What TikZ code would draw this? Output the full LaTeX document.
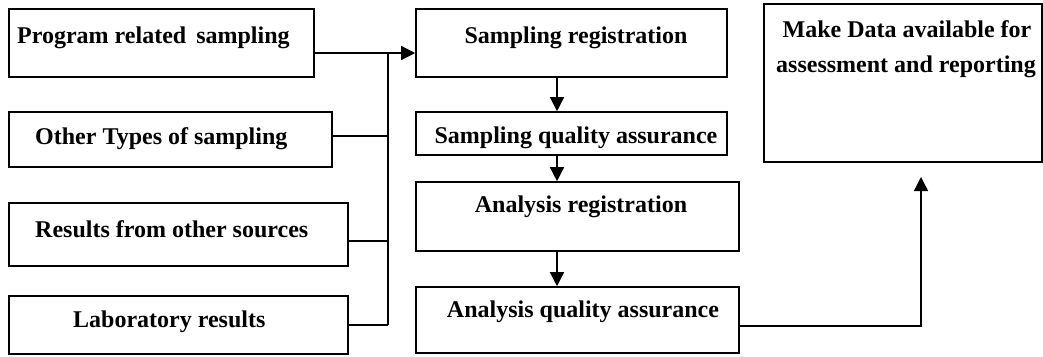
\documentclass[tikz,border=0pt]{standalone}
\usepackage{fontspec}
\setmainfont{Liberation Serif}
\usetikzlibrary{arrows.meta}
\tikzset{
  box/.style={draw=black, line width=1.6pt, rectangle, inner sep=0pt},
  lbl/.style={inner sep=0pt, font=\fontsize{24}{28}\selectfont\bfseries},
  wire/.style={draw=black, line width=1.4pt},
  arr/.style={wire, -{Triangle[length=14pt,width=14pt]}}
}
\begin{document}
\begin{tikzpicture}[x=1pt, y=-1pt]
\useasboundingbox (0,0) rectangle (1043,356);

% input sources
\node[box, minimum width=305pt, minimum height=68pt] (b1) at (161.5,43) {};
\node[box, minimum width=323pt, minimum height=55pt] (b2) at (170.5,139.5) {};
\node[box, minimum width=339pt, minimum height=63pt] (b3) at (178.5,234.5) {};
\node[box, minimum width=339pt, minimum height=58pt] (b4) at (178.5,325) {};

% processing chain
\node[box, minimum width=311pt, minimum height=68pt] (b5) at (571.5,43) {};
\node[box, minimum width=311pt, minimum height=43pt] (b6) at (571.5,133.5) {};
\node[box, minimum width=323pt, minimum height=69pt] (b7) at (577.5,216.5) {};
\node[box, minimum width=323pt, minimum height=66pt] (b8) at (577.5,320) {};

% output
\node[box, minimum width=278pt, minimum height=158pt] (b9) at (903,83) {};

% labels
\node[lbl, anchor=base west] (t1) at (17,43) {Program related\, sampling};
\node[lbl, anchor=base west] (t2) at (35,144) {Other Types of sampling};
\node[lbl, anchor=base west] (t3) at (35,237) {Results from other sources};
\node[lbl, anchor=base west] (t4) at (73,327) {Laboratory results};
\node[lbl, anchor=base] (t5) at (576,43) {Sampling registration};
\node[lbl, anchor=base] (t6) at (576,143) {Sampling quality assurance};
\node[lbl, anchor=base] (t7) at (581,212) {Analysis registration};
\node[lbl, anchor=base] (t8) at (583,317) {Analysis quality assurance};
\node[lbl, anchor=base] (t9) at (907,37) {Make Data available for};
\node[lbl, anchor=base] (t10) at (906,72) {assessment and reporting};

% collector spine
\coordinate (j1) at (388,53);
\coordinate (j2) at (388,136);
\coordinate (j3) at (388,241);
\coordinate (j4) at (388,325);
\draw[wire] (j1) -- (j4);
\draw[wire] (b1.east |- j1) -- (j1);
\draw[arr] (j1) -- (b5.west |- j1);
\draw[wire] (b2.east |- j2) -- (j2);
\draw[wire] (b3.east |- j3) -- (j3);
\draw[wire] (b4.east |- j4) -- (j4);

% chain arrows
\coordinate (ax) at (557,0);
\draw[arr] (b5.south -| ax) -- (b6.north -| ax);
\draw[arr] (b6.south -| ax) -- (b7.north -| ax);
\draw[arr] (b7.south -| ax) -- (b8.north -| ax);

% to output
\coordinate (turn) at (921,326);
\coordinate (tip) at (921,177);
\draw[arr] (b8.east |- turn) -- (turn) -- (tip);
\end{tikzpicture}
\end{document}
